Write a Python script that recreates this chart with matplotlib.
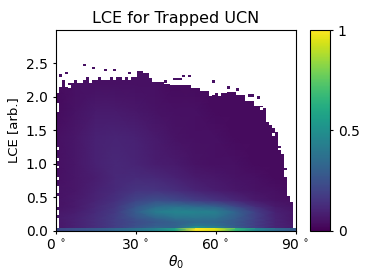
import matplotlib
matplotlib.use('Agg')
import matplotlib.pyplot as plt
import numpy as np

theta_nodes = [0, 7.5, 15, 22.5, 30, 37.5, 45, 52.5, 60, 67.5, 75, 82.5, 90]
lce_nodes = [0.03, 0.08, 0.13, 0.18, 0.28, 0.36, 0.45, 0.6, 0.8, 1.0, 1.4, 1.8, 2.2, 3.0]
density = [
    [.06, .09, .13, .18, .26, .33, .32, .56, .48, .30, .18, .10, .07],
    [.06, .09, .13, .18, .24, .29, .31, .40, .36, .28, .18, .10, .07],
    [.06, .09, .13, .18, .23, .27, .31, .34, .33, .27, .18, .10, .06],
    [.07, .09, .13, .18, .25, .31, .37, .38, .37, .29, .19, .10, .06],
    [.06, .08, .12, .17, .29, .42, .46, .45, .43, .32, .19, .09, .06],
    [.05, .07, .11, .16, .26, .34, .37, .34, .31, .22, .13, .07, .05],
    [.05, .07, .10, .14, .20, .24, .22, .18, .15, .11, .07, .05, .04],
    [.05, .06, .09, .12, .15, .15, .13, .10, .08, .06, .05, .04, .03],
    [.04, .06, .08, .11, .12, .11, .09, .07, .06, .05, .04, .03, .03],
    [.04, .06, .09, .11, .10, .08, .07, .05, .04, .04, .03, .03, .03],
    [.04, .06, .09, .10, .09, .07, .05, .04, .04, .03, .03, .03, .03],
    [.03, .05, .07, .07, .06, .05, .04, .04, .03, .03, .03, .03, .03],
    [.03, .04, .04, .04, .04, .04, .03, .03, .03, .03, .03, .03, .03],
    [.03, .04, .04, .04, .04, .04, .03, .03, .03, .03, .03, .03, .03],
]
bottom_row = [.22, .25, .28, .33, .38, .44, .58, 1.0, .95, .66, .46, .34, .28]

# top of the filled region in each of the 80 theta bins
tops = [2.05, 2.15, 2.25, 2.15, 2.20, 2.20, 2.25, 2.20, 2.20, 2.25,
        2.30, 2.20, 2.25, 2.25, 2.30, 2.25, 2.25, 2.25, 2.30, 2.25,
        2.30, 2.30, 2.25, 2.30, 2.25, 2.30, 2.30, 2.39, 2.39, 2.35,
        2.35, 2.28, 2.22, 2.22, 2.22, 2.22, 2.19, 2.19, 2.18, 2.18,
        2.18, 2.18, 2.18, 2.18, 2.18, 2.13, 2.13, 2.13, 2.09, 2.09,
        2.09, 2.03, 2.03, 2.06, 2.06, 2.06, 2.06, 2.07, 2.07, 2.07,
        2.02, 2.02, 2.02, 1.94, 1.94, 1.94, 1.87, 1.87, 1.87, 1.83,
        1.63, 1.58, 1.53, 1.48, 1.20, 1.15, 0.80, 0.52, 0.43, 0.04]
bin_edges = np.linspace(0, 90, 81)
bin_w = 90 / 80
bin_h = 3 / 80

# stray filled bins above the edge (bin, lce)
stray_bins = [9, 12, 16, 19, 3, 1, 24, 42, 44, 39, 40, 41, 52, 36, 57, 60, 67, 64, 65, 76, 74]
stray_lce = [2.46, 2.41, 2.38, 2.38, 2.34, 2.30, 2.34, 2.29, 2.29, 2.25, 2.25, 2.25,
             2.21, 2.21, 2.12, 2.09, 1.97, 2.00, 2.00, 0.90, 1.23]
# empty bins below the edge (bin, lce low, lce high)
hole_bins = [0, 0, 0, 0, 0, 0, 0, 0, 0, 72, 4, 46, 51, 54, 68]
hole_low = [1.77, 1.21, 1.04, 0.94, 0.76, 0.56, 0.35, 0.23, 0.04, 1.42, 2.13, 2.14, 2.01, 2.01, 1.81]
hole_high = [1.91, 1.25, 1.09, 0.97, 0.80, 0.67, 0.52, 0.31, 0.19, 1.46, 2.17, 2.18, 2.05, 2.05, 1.85]

xticks = [0, 30, 60, 90]
xticklabels = ['0$\\,^\\circ$', '30$\\,^\\circ$', '60$\\,^\\circ$', '90$\\,^\\circ$']
yticks = [0.0, 0.5, 1.0, 1.5, 2.0, 2.5]

W, H = 374, 280
fig = plt.figure(figsize=(W / 100, H / 100), dpi=100)
ax = fig.add_axes([55.5 / W, 1 - 230.5 / H, 240 / W, 200.5 / H])
cax = fig.add_axes([310 / W, 1 - 230.5 / H, 20 / W, 200.5 / H])

norm = plt.Normalize(0, 1)
mesh = ax.pcolormesh(theta_nodes, lce_nodes, density, cmap='viridis', norm=norm, shading='gouraud')
ax.pcolormesh(theta_nodes, [0, 0.03], [bottom_row, bottom_row], cmap='viridis', norm=norm, shading='gouraud')

ax.fill_between(bin_edges, tops + [tops[-1]], 3, step='post', color='white', lw=0, zorder=2)
for b, lo, hi in zip(hole_bins, hole_low, hole_high):
    ax.bar(b * bin_w, hi - lo, bin_w, bottom=lo, align='edge', color='white', lw=0, zorder=2.1)
dark = plt.cm.viridis(0.04)
for b, v in zip(stray_bins, stray_lce):
    ax.bar(b * bin_w, bin_h, bin_w, bottom=v, align='edge', color=dark, lw=0, zorder=2.2)

ax.set_xlim(0, 90)
ax.set_ylim(0, 3)
ax.set_xticks(xticks)
ax.set_xticklabels(xticklabels)
ax.set_yticks(yticks)
ax.tick_params(labelsize=10, length=2.5, pad=3)
ax.set_xlabel(r'$\theta_0$', fontsize=10, labelpad=1)
ax.set_ylabel('LCE [arb.]', fontsize=9.5, labelpad=4)
ax.set_title('LCE for Trapped UCN', fontsize=11.5, pad=5)

cb = fig.colorbar(mesh, cax=cax)
cb.set_ticks([0, 0.5, 1])
cb.set_ticklabels(['0', '0.5', '1'])
cb.ax.tick_params(labelsize=10, length=2.5, pad=3)

fig.savefig('out.png', dpi=100)
